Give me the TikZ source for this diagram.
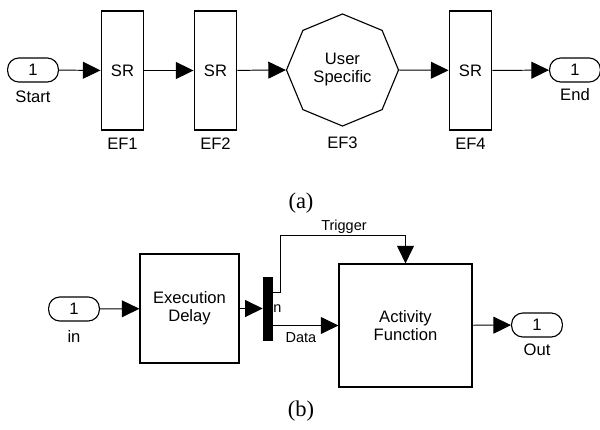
\documentclass[tikz,border=0pt]{standalone}
\usepackage{fontspec}
\setmainfont{Liberation Sans}
\newfontfamily\capfont{Liberation Serif}
\usetikzlibrary{arrows.meta, positioning, shapes.geometric}

\begin{document}
\begin{tikzpicture}[x=0.025cm, y=-0.025cm,
  blk/.style={draw, line width=0.8pt, inner sep=0pt, align=center, font=\fontsize{11.8}{12.8}\selectfont},
  srbox/.style={blk, minimum width=1.07cm, minimum height=2.975cm},
  port/.style={draw, line width=0.8pt, rounded corners=8pt, minimum width=1.27cm, minimum height=0.6cm, inner sep=0pt, font=\fontsize{11.8}{12.8}\selectfont},
  lbl/.style={inner sep=0pt, font=\fontsize{11.8}{12.8}\selectfont},
  sig/.style={inner sep=0pt, font=\fontsize{10.3}{12}\selectfont},
  flow/.style={line width=0.7pt, -{Triangle[length=12.5pt, width=12pt]}},
  subcap/.style={inner sep=0pt, font=\capfont\fontsize{16}{18}\selectfont}]
  \useasboundingbox (0,0) rectangle (600,429);

  % (a) chain of execution functions
  \node[port] (start) at (33,70) {1};
  \node[lbl, below=0.2cm of start] (startl) {Start};

  \node[srbox] (ef1) at (122.5,70.5) {SR};
  \node[lbl, below=0.17cm of ef1] (ef1l) {EF1};

  \node[srbox] (ef2) at (215.5,70.5) {SR};
  \node[lbl, below=0.17cm of ef2] (ef2l) {EF2};

  \node[blk, regular polygon, regular polygon sides=8, shape border rotate=22.5, minimum size=2.8cm] (ef3) at (342.5,70) {User\\Specific};
  \node[lbl, anchor=north] (ef3l) at (342.5,136.5) {EF3};

  \node[srbox] (ef4) at (470.5,70.5) {SR};
  \node[lbl, below=0.17cm of ef4] (ef4l) {EF4};

  \node[port] (end) at (575,70) {1};
  \node[lbl, below=0.15cm of end] (endl) {End};

  \draw[flow] (start) -- (ef1);
  \draw[flow] (ef1) -- (ef2);
  \draw[flow] (ef2) -- (ef3.west);
  \draw[flow] (ef3.east) -- (ef4);
  \draw[flow] (ef4) -- (end);

  \node[subcap] (capa) at (301,203) {(a)};

  % (b) execution delay + activity function
  \node[port] (in) at (74,309) {1};
  \node[lbl, below=0.22cm of in] (inl) {in};

  \node[blk, minimum width=2.475cm, minimum height=2.725cm] (exec) at (189.5,308.5) {Execution\\Delay};

  \node[sig, anchor=west] (demuxl) at (269,308) {In};
  \node[fill=black, inner sep=0pt, minimum width=0.25cm, minimum height=1.6cm] (bar) at (268,309) {};

  \node[blk, minimum width=3.325cm, minimum height=3.075cm] (act) at (405.5,325.5) {Activity\\Function};

  \node[port] (out) at (537,325) {1};
  \node[lbl, below=0.15cm of out] (outl) {Out};

  \coordinate (tout) at (273,292);
  \coordinate (tbend) at (280,235);

  \draw[flow] (in) -- (exec);
  \draw[flow] (exec) -- (bar.west |- exec.east);
  \draw[flow] (tout) -| (tbend) -| (act.north);
  \draw[flow] (bar.east |- act.west) -- (act.west);
  \draw[flow] (act) -- (out);

  \node[sig] (trigl) at (344,227) {Trigger};
  \node[sig] (datal) at (301,338) {Data};

  \node[subcap] (capb) at (301,411) {(b)};
\end{tikzpicture}
\end{document}
